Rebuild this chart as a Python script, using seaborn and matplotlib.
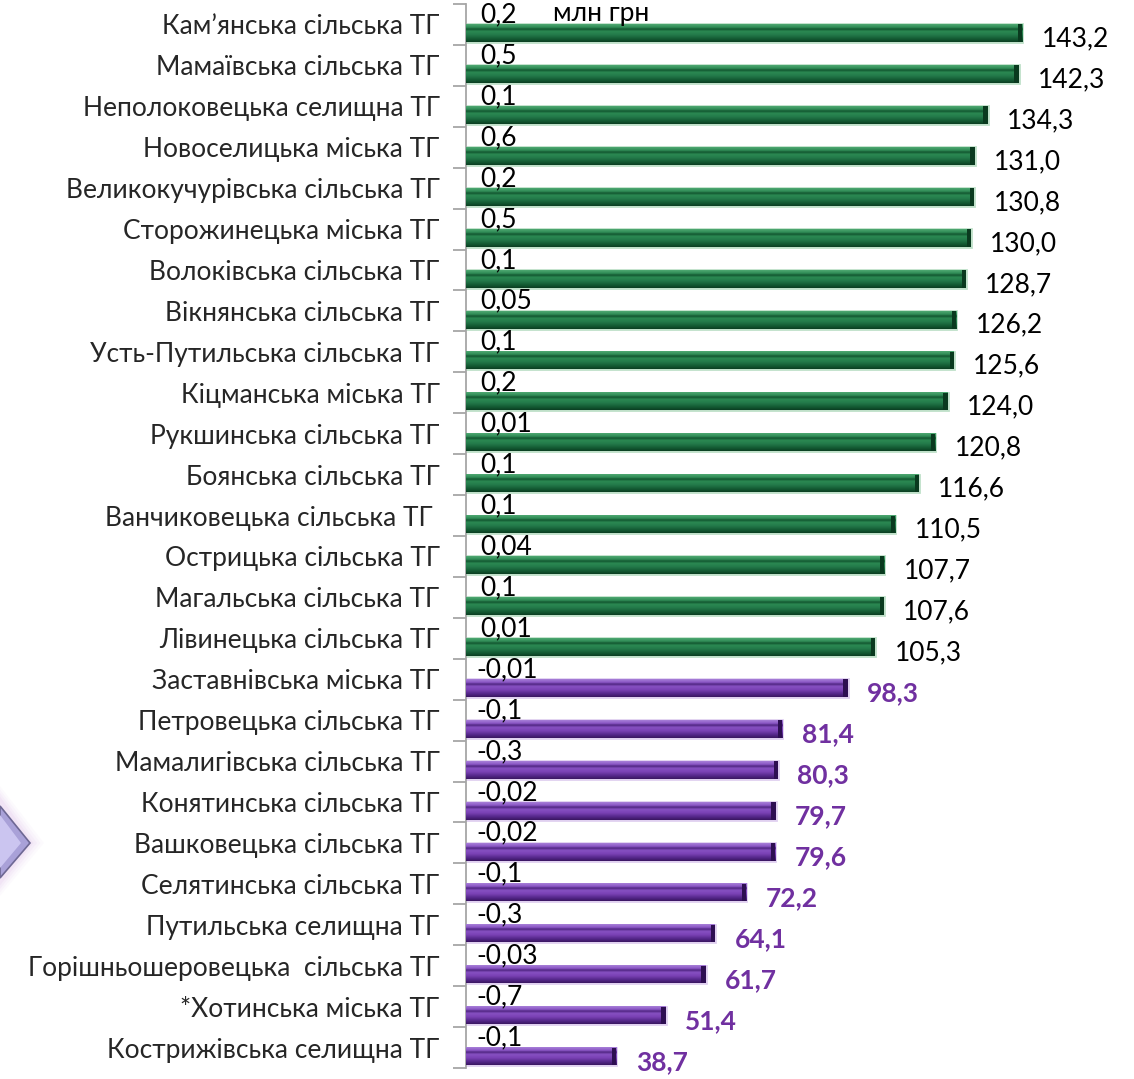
import numpy as np
import pandas as pd
import matplotlib
matplotlib.use("Agg")
import matplotlib.pyplot as plt
import seaborn as sns
from matplotlib.colors import LinearSegmentedColormap
from matplotlib.patches import Polygon, Rectangle

# дані
names = [
    "Кам’янська сільська ТГ", "Мамаївська сільська ТГ", "Неполоковецька селищна ТГ",
    "Новоселицька міська ТГ", "Великокучурівська сільська ТГ", "Сторожинецька міська ТГ",
    "Волоківська сільська ТГ", "Вікнянська сільська ТГ", "Усть-Путильська сільська ТГ",
    "Кіцманська міська ТГ", "Рукшинська сільська ТГ", "Боянська сільська ТГ",
    "Ванчиковецька сільська ТГ ", "Острицька сільська ТГ", "Магальська сільська ТГ",
    "Лівинецька сільська ТГ", "Заставнівська міська ТГ", "Петровецька сільська ТГ",
    "Мамалигівська сільська ТГ", "Конятинська сільська ТГ", "Вашковецька сільська ТГ",
    "Селятинська сільська ТГ", "Путильська селищна ТГ", "Горішньошеровецька  сільська ТГ",
    "*Хотинська міська ТГ", "Кострижівська селищна ТГ",
]
totals = [143.2, 142.3, 134.3, 131.0, 130.8, 130.0, 128.7, 126.2, 125.6, 124.0,
          120.8, 116.6, 110.5, 107.7, 107.6, 105.3, 98.3, 81.4, 80.3, 79.7,
          79.6, 72.2, 64.1, 61.7, 51.4, 38.7]
changes = [0.2, 0.5, 0.1, 0.6, 0.2, 0.5, 0.1, 0.05, 0.1, 0.2,
           0.01, 0.1, 0.1, 0.04, 0.1, 0.01, -0.01, -0.1, -0.3, -0.02,
           -0.02, -0.1, -0.3, -0.03, -0.7, -0.1]
groups = ["high"] * 16 + ["low"] * 10

df = pd.DataFrame({
    "name": names * 2,
    "value": changes + totals,
    "series": ["change"] * len(names) + ["total"] * len(names),
})

sns.set_style("white")
plt.rcParams["font.family"] = ["Lato", "DejaVu Sans"]
FS = 19

fig = plt.figure(figsize=(11.34, 10.79), dpi=100)
ax = fig.add_axes([466 / 1134, 1 - 1068 / 1079, 1 - 466 / 1134, (1068 - 4) / 1079])

sns.barplot(data=df, x="value", y="name", hue="series", hue_order=["change", "total"],
            orient="h", width=0.86, dodge=True, errorbar=None, legend=False,
            palette=["#1F7A45", "#1F7A45"], ax=ax)

green_cmap = LinearSegmentedColormap.from_list("g", [
    (0.0, "#4FA872"), (0.18, "#2E8A55"), (0.28, "#12552F"), (0.4, "#2B8A52"),
    (0.6, "#23794A"), (0.82, "#145C34"), (1.0, "#0B3F22")])
purple_cmap = LinearSegmentedColormap.from_list("p", [
    (0.0, "#A77FD8"), (0.18, "#8A55C4"), (0.28, "#4E2580"), (0.4, "#8750C2"),
    (0.6, "#7A42B5"), (0.82, "#55278A"), (1.0, "#3A1762")])
styles = {"high": (green_cmap, "#0A3A1F", "#BFE0C9", "black", "normal"),
          "low": (purple_cmap, "#2E0F52", "#E0D0F0", "#7030A0", "bold")}

grad = np.linspace(0, 1, 64)

small_bars = ax.containers[0]
main_bars = ax.containers[1]

for patch, grp in zip(main_bars, groups):
    cmap, dark, halo, _, _ = styles[grp]
    x0, y0 = patch.get_x(), patch.get_y()
    w, h = patch.get_width(), patch.get_height()
    patch.set_facecolor(cmap(0.5))
    patch.set_edgecolor(halo)
    patch.set_linewidth(2.0)
    img = cmap(grad)[:, None, :]
    ax.imshow(img, extent=[x0, x0 + w, y0, y0 + h], origin="lower",
              aspect="auto", clip_path=patch, zorder=3, interpolation="bilinear")
    cap = Rectangle((x0 + w - 1.1, y0), 1.1, h, facecolor=dark, edgecolor="none", zorder=4)
    ax.add_patch(cap)

# друга серія майже нульова, у зразку не видно
for patch in small_bars:
    patch.set_alpha(0)

# підписи
main_texts = ax.bar_label(main_bars, labels=[f"{v:.1f}".replace(".", ",") for v in totals],
                          padding=14, fontsize=FS)
for t, grp in zip(main_texts, groups):
    t.set_color(styles[grp][3])
    t.set_fontweight(styles[grp][4])
    t.set_va("center")
    t.xyann = (14, -4)

for patch, v in zip(small_bars, changes):
    yc = patch.get_y() + patch.get_height() / 2
    ax.text(3.6 if v > 0 else 2.8, yc - 0.02, str(v).replace(".", ","), ha="left",
            va="center", fontsize=FS, color="black", zorder=5)

ax.text(22.4, small_bars[0].get_y() + small_bars[0].get_height() / 2 - 0.06, "млн грн",
        ha="left", va="center", fontsize=19, color="black")

ax.set_xlim(0, 172)
ax.set_ylim(len(names) - 0.5, -0.5)
ax.set_xlabel("")
ax.set_ylabel("")
ax.set_xticks([])
ax.set_yticks(range(len(names)))
ax.set_yticklabels(names, fontsize=FS)
ax.set_yticks(np.arange(-0.5, len(names)), minor=True)
ax.tick_params(axis="y", which="major", length=0, pad=19)
ax.tick_params(axis="y", which="minor", length=9.5, width=1.3, color="#A6A6A6", left=True)
for side in ["top", "right", "bottom"]:
    ax.spines[side].set_visible(False)
ax.spines["left"].set_color("#A6A6A6")
ax.spines["left"].set_linewidth(1.3)

# декоративна стрілка зліва
def fx(px):
    return px / 1134

def fy(py):
    return 1 - py / 1079

for i, a in enumerate([0.06, 0.08, 0.1, 0.14]):
    g = 14 - i * 3.5
    fig.add_artist(Polygon([(fx(0), fy(800 - g)), (fx(30 + g), fy(843)), (fx(0), fy(882 + g))],
                           closed=True, transform=fig.transFigure, facecolor="#D9B3E6",
                           edgecolor="none", alpha=a))
fig.add_artist(Polygon([(fx(0), fy(806)), (fx(30), fy(843)), (fx(0), fy(878))],
                       closed=True, transform=fig.transFigure, facecolor="#A9A1D8",
                       edgecolor="#6E6894", linewidth=1.2))
fig.add_artist(Polygon([(fx(0), fy(815)), (fx(21), fy(843)), (fx(0), fy(868))],
                       closed=True, transform=fig.transFigure, facecolor="#CBC5F0",
                       edgecolor="none"))

fig.savefig("out.png", dpi=100)
